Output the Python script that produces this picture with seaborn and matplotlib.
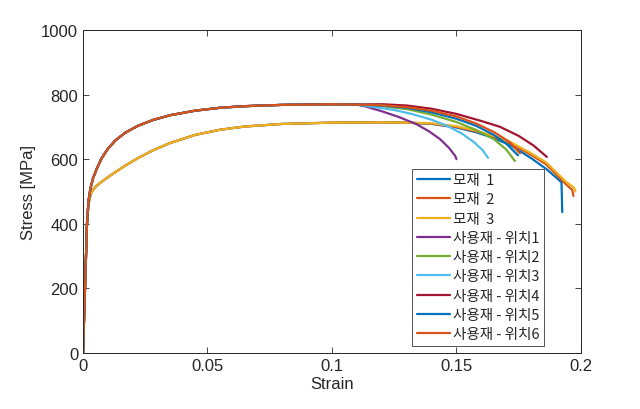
import numpy as np
import pandas as pd
import matplotlib
matplotlib.use("Agg")
import matplotlib.pyplot as plt
import seaborn as sns

# Shared loading part (elastic + hardening)
upper_strain = [0, 0.0008, 0.0016, 0.0022, 0.003, 0.004, 0.0055, 0.0075, 0.01,
                0.013, 0.017, 0.022, 0.028, 0.035, 0.045, 0.055, 0.065, 0.08, 0.1, 0.11]
upper_stress = [0, 200, 400, 470, 510, 540, 570, 603, 632,
                658, 682, 703, 721, 736, 750, 759, 764, 768, 770, 769]
lower_strain = [0, 0.0008, 0.0016, 0.0022, 0.003, 0.004, 0.0055, 0.0075, 0.01,
                0.013, 0.017, 0.022, 0.028, 0.035, 0.045, 0.055, 0.065, 0.08, 0.1, 0.12, 0.13]
lower_stress = [0, 200, 400, 460, 490, 505, 518, 530, 544,
                560, 580, 603, 627, 650, 675, 691, 701, 709, 713, 714, 713]

# Tails of each specimen
base1_strain = [0.14, 0.15, 0.158, 0.165, 0.172, 0.18, 0.186, 0.1905, 0.1922, 0.1925]
base1_stress = [709, 698, 683, 665, 642, 603, 570, 540, 528, 436]
base2_strain = [0.14, 0.15, 0.158, 0.165, 0.172, 0.18, 0.186, 0.19, 0.194, 0.1965, 0.197]
base2_stress = [710, 700, 686, 669, 648, 613, 584, 553, 522, 505, 486]
base3_strain = [0.14, 0.15, 0.158, 0.165, 0.172, 0.18, 0.186, 0.19, 0.194, 0.1972, 0.1978]
base3_stress = [711, 702, 688, 672, 652, 618, 590, 560, 530, 512, 500]

pos1_strain = [0.114, 0.1205, 0.127, 0.134, 0.139, 0.1434, 0.147, 0.1495, 0.150]
pos1_stress = [762, 747, 730, 708, 686, 662, 635, 610, 600]
pos2_strain = [0.12, 0.13, 0.14, 0.15, 0.158, 0.165, 0.17, 0.1735]
pos2_stress = [764, 755, 738, 715, 690, 662, 630, 594]
pos3_strain = [0.118, 0.125, 0.132, 0.14, 0.146, 0.152, 0.157, 0.1605, 0.1627]
pos3_stress = [760, 752, 740, 722, 704, 680, 653, 628, 604]
pos4_strain = [0.12, 0.13, 0.14, 0.15, 0.16, 0.1675, 0.175, 0.181, 0.1863]
pos4_stress = [770, 766, 756, 740, 718, 700, 672, 642, 607]
pos5_strain = [0.12, 0.13, 0.14, 0.15, 0.158, 0.165, 0.17, 0.1747]
pos5_stress = [766, 759, 745, 725, 703, 675, 648, 612]
pos6_strain = [0.12, 0.13, 0.14, 0.15, 0.158, 0.165, 0.171, 0.1755]
pos6_stress = [767, 761, 750, 732, 710, 684, 655, 618]

labels = ['모재  1', '모재  2', '모재  3',
          '사용재 - 위치1', '사용재 - 위치2', '사용재 - 위치3',
          '사용재 - 위치4', '사용재 - 위치5', '사용재 - 위치6']
colors = ['#0072BD', '#D95319', '#EDB120', '#7E2F8E', '#77AC30',
          '#4DBEEE', '#A2142F', '#0072BD', '#D95319']

curves = [
    (lower_strain + base1_strain, lower_stress + base1_stress),
    (lower_strain + base2_strain, lower_stress + base2_stress),
    (lower_strain + base3_strain, lower_stress + base3_stress),
    (upper_strain + pos1_strain, upper_stress + pos1_stress),
    (upper_strain + pos2_strain, upper_stress + pos2_stress),
    (upper_strain + pos3_strain, upper_stress + pos3_stress),
    (upper_strain + pos4_strain, upper_stress + pos4_stress),
    (upper_strain + pos5_strain, upper_stress + pos5_stress),
    (upper_strain + pos6_strain, upper_stress + pos6_stress),
]

sns.set_style("ticks")
plt.rcParams['font.family'] = ['Liberation Sans', 'Noto Sans CJK KR', 'DejaVu Sans']
plt.rcParams['xtick.direction'] = 'in'
plt.rcParams['ytick.direction'] = 'in'

fig = plt.figure(figsize=(6.4, 4.1), dpi=100)
ax = fig.add_axes([0.1297, 0.1366, 0.778, 0.788])

for (xs, ys), lab, col in zip(curves, labels, colors):
    df = pd.DataFrame({'Strain': xs, 'Stress': ys})
    sns.lineplot(data=df, x='Strain', y='Stress', ax=ax, color=col, label=lab,
                 sort=False, estimator=None, linewidth=1.6)

ax.set_xlim(0, 0.2)
ax.set_ylim(0, 1000)
ax.set_xticks([0, 0.05, 0.1, 0.15, 0.2])
ax.set_xticklabels(['0', '0.05', '0.1', '0.15', '0.2'])
ax.set_yticks([0, 200, 400, 600, 800, 1000])
ax.tick_params(labelsize=12, length=4, width=0.6, colors='#262626', top=True, right=True)
ax.set_xlabel('Strain', fontsize=12, labelpad=2)
ax.set_ylabel('Stress [MPa]', fontsize=12, labelpad=4)
for s in ax.spines.values():
    s.set_visible(True)
    s.set_color('#262626')
    s.set_linewidth(0.7)

leg = ax.legend(loc='upper right', bbox_to_anchor=(0.926, 0.570), fontsize=10.5,
                frameon=True, fancybox=False, borderpad=0.3, labelspacing=0.36,
                handlelength=2.3, handletextpad=0.2, borderaxespad=0)
leg.get_frame().set_edgecolor('#262626')
leg.get_frame().set_linewidth(0.7)
for t in leg.get_texts():
    t.set_family(['Noto Sans CJK KR', 'DejaVu Sans'])
    t.set_color('#262626')

fig.savefig('out.png', dpi=100)
